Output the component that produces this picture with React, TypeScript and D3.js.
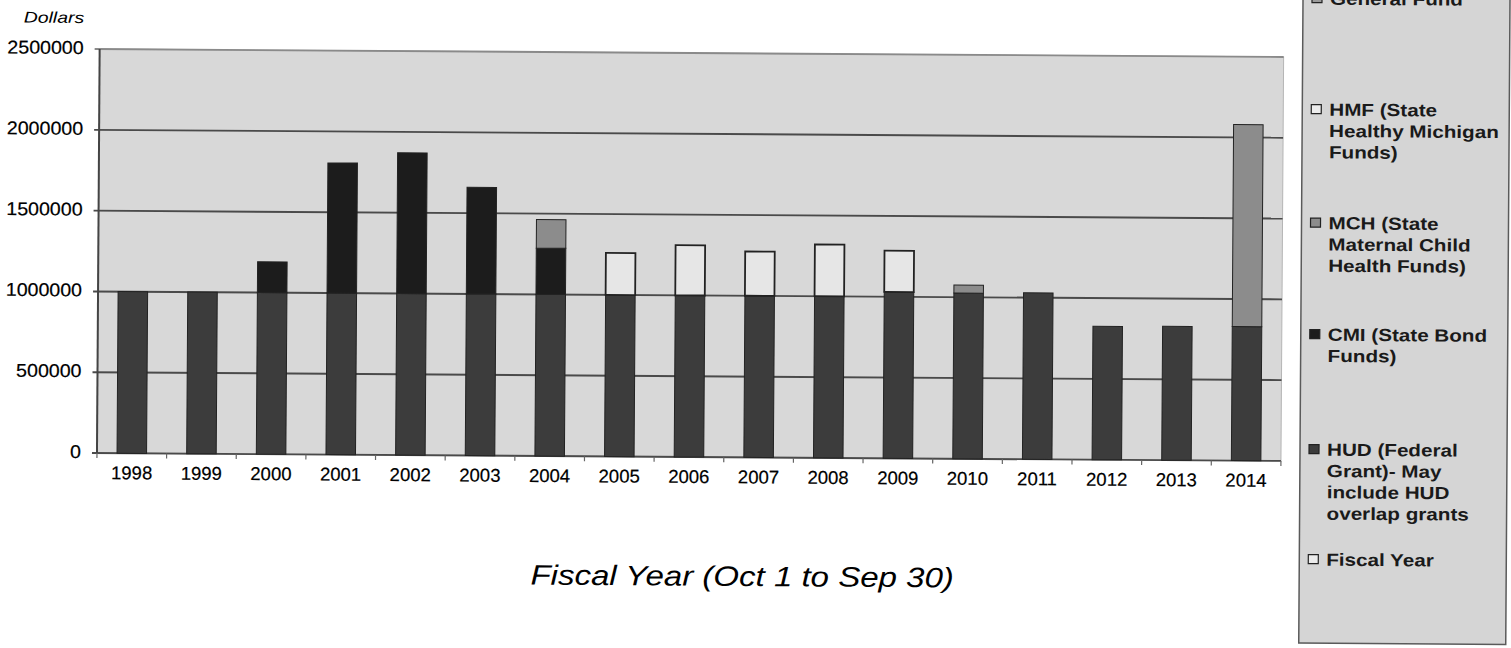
import React from "react";
import * as d3 from "d3";

const years = ["1998","1999","2000","2001","2002","2003","2004","2005","2006","2007","2008","2009","2010","2011","2012","2013","2014"];
const hud = [1000000,1000000,1000000,1000000,1000000,1000000,1000000,1000000,1000000,1000000,1000000,1030000,1025000,1030000,826000,828000,830000];
const cmi = [0,0,190000,805000,870000,660000,286000,0,0,0,0,0,0,0,0,0,0];
const mch = [0,0,0,0,0,0,177000,0,0,0,0,0,50000,0,0,0,1250000];
const hmf = [0,0,0,0,0,0,0,260000,310000,274000,320000,255000,0,0,0,0,0];
const yTicks = [0,500000,1000000,1500000,2000000,2500000];

const seriesKeys = ["hud","cmi","mch","hmf"];
const seriesColors: Record<string,string> = { hud: "#3c3c3c", cmi: "#1c1c1c", mch: "#8c8c8c", hmf: "#e6e6e6" };

const legendItems = [
  { lines: ["General Fund"], color: "#9a9a9a" },
  { lines: ["HMF (State", "Healthy Michigan", "Funds)"], color: "#ececec" },
  { lines: ["MCH (State", "Maternal Child", "Health Funds)"], color: "#8c8c8c" },
  { lines: ["CMI (State Bond", "Funds)"], color: "#1c1c1c" },
  { lines: ["HUD (Federal", "Grant)- May", "include HUD", "overlap grants"], color: "#3c3c3c" },
  { lines: ["Fiscal Year"], color: "#ececec" },
];
const legendBaselines = [0.5, 111.5, 225, 336.5, 451.5, 561.5];

const FONT = "'Liberation Sans', Arial, Helvetica, sans-serif";

export default function App() {
  const W = 1511, H = 648;
  const x0 = 98, x1 = 1282, yTop = 53, yBase = 457;
  const x = d3.scaleBand<string>().domain(years).range([x0, x1]).paddingInner(0.576).paddingOuter(0.288);
  const y = d3.scaleLinear().domain([0, 2500000]).range([yBase, yTop]);
  const table = years.map((yr, i) => ({ year: yr, hud: hud[i], cmi: cmi[i], mch: mch[i], hmf: hmf[i] }));
  const stacked = d3.stack<any>().keys(seriesKeys)(table);
  const step = x.step();
  const boundaries = d3.range(years.length + 1).map((i) => x0 + i * step);

  return (
    <svg width={W} height={H} style={{ position: "absolute", left: 0, top: 0, background: "#fff" }}>
      <g transform="rotate(0.38 690 300)">
        <rect x={x0} y={yTop} width={x1 - x0} height={yBase - yTop} fill="#d8d8d8" stroke="#b5b5b5" strokeWidth={1} />
        {yTicks.map((t) => (
          <g key={t}>
            <line x1={x0 - 5} x2={x1} y1={y(t)} y2={y(t)} stroke={t === 2500000 ? "#8a8a8a" : "#4a4a4a"} strokeWidth={1.9} />
            <text transform={`translate(82,${y(t) + 5}) scale(1.06,1)`} textAnchor="end" fontFamily={FONT} fontSize={18.5} fill="#000" stroke="#000" strokeWidth={0.2}>{String(t)}</text>
          </g>
        ))}
        <line x1={x0} x2={x0} y1={yTop} y2={yBase} stroke="#444" strokeWidth={2} />
        {boundaries.map((b, i) => (
          <line key={i} x1={b} x2={b} y1={yBase} y2={yBase + 5} stroke="#666" strokeWidth={1.2} />
        ))}
        {stacked.map((s) => (
          <g key={s.key}>
            {s.map((d, i) => {
              const h = y(d[0]) - y(d[1]);
              if (h <= 0.01) return null;
              return (
                <rect key={i} x={x(years[i])} y={y(d[1])} width={x.bandwidth()} height={h}
                  fill={seriesColors[s.key]} stroke="#222" strokeWidth={s.key === "hmf" ? 1.8 : 1} />
              );
            })}
          </g>
        ))}
        {years.map((yr) => (
          <text key={yr} x={(x(yr) as number) + x.bandwidth() / 2} y={yBase + 26} textAnchor="middle" fontFamily={FONT} fontSize={18.5} fill="#000" stroke="#000" strokeWidth={0.2}>{yr}</text>
        ))}
        <text transform="translate(22,27) scale(1.25,1)" fontFamily={FONT} fontStyle="italic" fontSize={15.5} fill="#000">Dollars</text>
        <text transform="translate(744,585.6) scale(1.18,1)" textAnchor="middle" fontFamily={FONT} fontStyle="italic" fontSize={28} fill="#000">Fiscal Year (Oct 1 to Sep 30)</text>
        <rect x={1301} y={-20} width={207} height={659} fill="#d5d5d5" stroke="#5a5a5a" strokeWidth={1.5} />
        {legendItems.map((it, k) => (
          <g key={k}>
            <rect x={1310} y={legendBaselines[k] - 11} width={10} height={9} fill={it.color} stroke="#222" strokeWidth={1.2} />
            {it.lines.map((ln, j) => (
              <text key={j} transform={`translate(1328,${legendBaselines[k] + j * 21.3}) scale(1.18,1)`} fontFamily={FONT} fontWeight="bold" fontSize={17.5} fill="#1a1a1a">{ln}</text>
            ))}
          </g>
        ))}
      </g>
    </svg>
  );
}
